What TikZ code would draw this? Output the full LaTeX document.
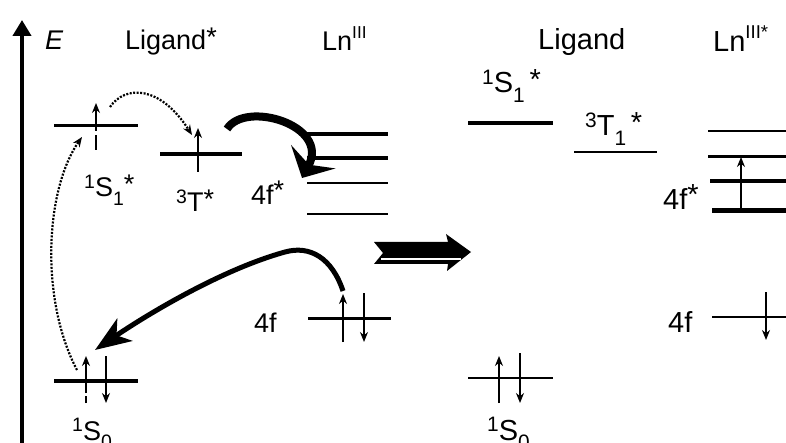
\documentclass[tikz,border=0pt]{standalone}
\usepackage{fontspec}
\setmainfont{Liberation Sans}
\usetikzlibrary{arrows.meta}
\newcommand\supx[1]{\raisebox{0.3em}{\fontsize{0.72em}{1em}\selectfont #1}}
\newcommand\supr[1]{\raisebox{0.45em}{\fontsize{0.64em}{1em}\selectfont #1}}
\newcommand\subx[1]{\raisebox{-0.33em}{\fontsize{0.72em}{1em}\selectfont #1}}
\newcommand\astx{\raisebox{0.12em}{*}}
\begin{document}
\begin{tikzpicture}[x=1pt,y=-1pt,
  lvl/.style={line width=#1},
  spin/.style={line width=1.5pt,-{Stealth[length=10pt,width=8pt]}},
  lblL/.style={anchor=base west,inner sep=0pt,font=\fontsize{27}{32}\selectfont},
  lblR/.style={anchor=base west,inner sep=0pt,font=\fontsize{29}{34}\selectfont},
  dotarrow/.style={line width=2.2pt,dash pattern=on 2pt off 1.5pt,-{Stealth[length=10pt,width=8pt]}},
]
\useasboundingbox (0,0) rectangle (786,443);
% energy axis
\coordinate (axB) at (22,443);
\coordinate (axT) at (22,20);
\draw[line width=4.5pt,-{Triangle[length=16pt,width=18pt]}] (axB) -- (axT);
\node[lblL,font=\fontsize{27}{32}\selectfont\itshape] (E) at (45,50) {E};
% headings
\node[lblL] (ligL) at (125,50) {Ligand\astx};
\node[lblL] (lnL) at (322,51) {Ln\supr{III}};
\node[lblR] (ligR) at (538,50) {Ligand};
\node[lblR] (lnR) at (713,52) {Ln\supr{III*}};
% ---- left levels ----
\coordinate (s1a) at (54,126); \coordinate (s1b) at (138,126);
\coordinate (ta) at (160,154); \coordinate (tb) at (242,154);
\coordinate (l1a) at (307,134); \coordinate (l1b) at (388,134);
\coordinate (l2a) at (307,158); \coordinate (l2b) at (388,158);
\coordinate (l3a) at (307,183); \coordinate (l3b) at (388,183);
\coordinate (l4a) at (307,214); \coordinate (l4b) at (388,214);
\coordinate (fa) at (308,318); \coordinate (fb) at (391,318);
\coordinate (s0a) at (54,381); \coordinate (s0b) at (138,381);
\draw[lvl=3pt] (s1a) -- (s1b);
\draw[lvl=3.5pt] (ta) -- (tb);
\draw[lvl=4.5pt] (l1a) -- (l1b);
\draw[lvl=3.5pt] (l2a) -- (l2b);
\draw[lvl=2.5pt] (l3a) -- (l3b);
\draw[lvl=2.5pt] (l4a) -- (l4b);
\draw[lvl=3pt] (fa) -- (fb);
\draw[lvl=3.5pt] (s0a) -- (s0b);
% left spins
\coordinate (sp1b) at (96,150); \coordinate (sp1t) at (96,103);
\draw[spin,dash pattern=on 15pt off 4pt on 60pt] (sp1b) -- (sp1t);
\coordinate (sp2b) at (198,172); \coordinate (sp2t) at (198,128);
\draw[spin] (sp2b) -- (sp2t);
\coordinate (sp3b) at (343,342); \coordinate (sp3t) at (343,294);
\draw[spin] (sp3b) -- (sp3t);
\coordinate (sp4t) at (364,293); \coordinate (sp4b) at (364,342);
\draw[spin] (sp4t) -- (sp4b);
\coordinate (sp5b) at (86,403); \coordinate (sp5t) at (86,356);
\draw[spin,dash pattern=on 7pt off 3pt on 60pt] (sp5b) -- (sp5t);
\coordinate (sp6t) at (106,356); \coordinate (sp6b) at (106,403);
\draw[spin] (sp6t) -- (sp6b);
% left labels
\node[lblL] (s1lab) at (84,197) {\supx{1}S\subx{1}\astx};
\node[lblL] (tlab) at (176,212) {\supx{3}T\astx};
\node[lblL] (f1lab) at (251,205) {4f\raisebox{0.2em}{*}};
\node[lblL] (f0lab) at (254,332) {4f};
\node[lblL] (s0lab) at (72,440) {\supx{1}S\subx{0}};
% transitions
\coordinate (d1s) at (77,370); \coordinate (d1e) at (82,137);
\draw[dotarrow] (d1s) .. controls (40,300) and (45,190) .. (d1e);
\coordinate (d2s) at (110,107); \coordinate (d2e) at (192,135);
\draw[dotarrow] (d2s) .. controls (125,85) and (160,85) .. (d2e);
\coordinate (b1s) at (227,129); \coordinate (b1e) at (302,178);
\draw[line width=8pt,-{Stealth[length=24pt,width=50pt,inset=9pt]}] (b1s) .. controls (245,100) and (330,125) .. (b1e);
\coordinate (b2s) at (343,291); \coordinate (b2m) at (285,252); \coordinate (b2e) at (95,350);
\draw[line width=5pt,-{Stealth[length=36pt,width=27pt,inset=10pt]}] (b2s) .. controls (332,258) and (310,245) .. (b2m) .. controls (220,270) and (145,316) .. (b2e);
% middle arrow
\fill (374,242) -- (448,242) -- (446,234) -- (471,252) -- (447,271) -- (448,264) -- (374,264) -- (383,253) -- cycle;
\coordinate (wa) at (381,259); \coordinate (wb) at (461,259);
\draw[white,line width=1.5pt] (wa) -- (wb);
% ---- right levels ----
\coordinate (rs1a) at (468,123); \coordinate (rs1b) at (553,123);
\coordinate (rta) at (574,152); \coordinate (rtb) at (657,152);
\coordinate (r1a) at (708,131); \coordinate (r1b) at (786,131);
\coordinate (r2a) at (708,157); \coordinate (r2b) at (786,157);
\coordinate (r3a) at (710,181); \coordinate (r3b) at (786,181);
\coordinate (r4a) at (712,211); \coordinate (r4b) at (786,211);
\coordinate (rfa) at (712,317); \coordinate (rfb) at (786,317);
\coordinate (rs0a) at (468,378); \coordinate (rs0b) at (553,378);
\draw[lvl=4pt] (rs1a) -- (rs1b);
\draw[lvl=2.5pt] (rta) -- (rtb);
\draw[lvl=2.5pt] (r1a) -- (r1b);
\draw[lvl=3pt] (r2a) -- (r2b);
\draw[lvl=3.5pt] (r3a) -- (r3b);
\draw[lvl=5pt] (r4a) -- (r4b);
\draw[lvl=2.5pt] (rfa) -- (rfb);
\draw[lvl=2.5pt] (rs0a) -- (rs0b);
% right spins
\coordinate (rsp1b) at (741,211); \coordinate (rsp1t) at (741,157);
\draw[spin] (rsp1b) -- (rsp1t);
\coordinate (rsp2t) at (766,292); \coordinate (rsp2b) at (766,340);
\draw[spin] (rsp2t) -- (rsp2b);
\coordinate (rsp3b) at (499,403); \coordinate (rsp3t) at (499,356);
\draw[spin] (rsp3b) -- (rsp3t);
\coordinate (rsp4t) at (520,353); \coordinate (rsp4b) at (520,403);
\draw[spin] (rsp4t) -- (rsp4b);
% right labels
\node[lblR] (rs1lab) at (482,93) {\supx{1}S\subx{1}\,\astx};
\node[lblR] (rtlab) at (585,136) {\supx{3}T\subx{1}\,\astx};
\node[lblR] (rf1lab) at (663,210) {4f\raisebox{0.2em}{*}};
\node[lblR] (rf0lab) at (668,332) {4f};
\node[lblR] (rs0lab) at (487,440) {\supx{1}S\subx{0}};
\end{tikzpicture}
\end{document}
